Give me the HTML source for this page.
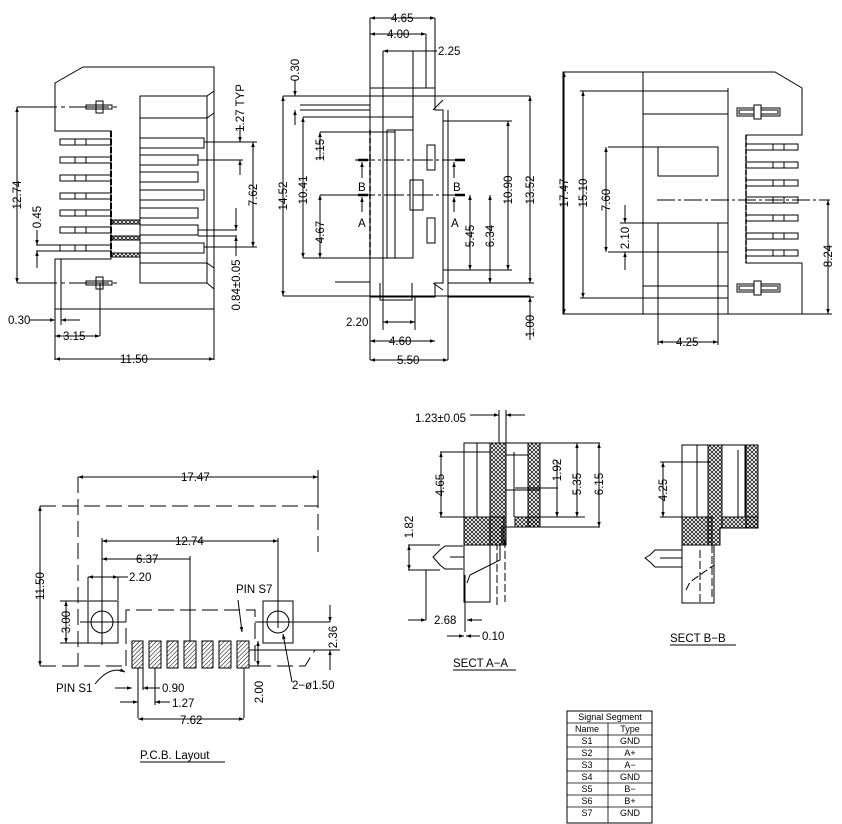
<!DOCTYPE html>
<html><head><meta charset="utf-8"><style>
html,body{margin:0;padding:0;background:#fff}
svg{display:block}
text{font-family:"Liberation Sans",sans-serif;font-size:11.5px;fill:#000}
</style></head><body>
<svg width="842" height="824" viewBox="0 0 842 824" xmlns="http://www.w3.org/2000/svg">
<defs>
<pattern id="xh" width="4" height="4" patternUnits="userSpaceOnUse"><path d="M0 0L4 4M4 0L0 4" stroke="#000" stroke-width="0.7"/></pattern>
<pattern id="dh" width="3" height="3" patternUnits="userSpaceOnUse" patternTransform="rotate(45)"><path d="M0 0V3" stroke="#000" stroke-width="1"/></pattern>
<marker id="a" viewBox="0 0 10 10" refX="10" refY="5" markerUnits="userSpaceOnUse" markerWidth="9" markerHeight="5" orient="auto-start-reverse"><path d="M0 1.5L10 5L0 8.5z" fill="#000"/></marker>
</defs>
<g fill="none" stroke="#000" stroke-width="1">
<!-- VIEW 1 -->
<path d="M55 83L83 67H214V309H55V259H111V131H55Z"/>
<path d="M55 259V360M214 309V360M61 259V325"/>
<rect x="140" y="96" width="67" height="187"/>
<path d="M207 96L214 91M207 283L214 289M140 118H207L214 113M140 263H207L214 268"/>
<g>
<rect x="60" y="139" width="51" height="6"/><rect x="60" y="157" width="51" height="6"/><rect x="60" y="175" width="51" height="6"/><rect x="60" y="193" width="51" height="6"/><rect x="60" y="210" width="51" height="6"/><rect x="60" y="227" width="51" height="6"/><rect x="60" y="245" width="51" height="6"/>
<path d="M75 139v6M86 139v6M75 157v6M86 157v6M75 175v6M86 175v6M75 193v6M86 193v6M75 210v6M86 210v6M75 227v6M86 227v6M75 245v6M86 245v6"/>
</g>
<path d="M111 131V259" stroke-width="2" stroke-dasharray="6 2"/>
<g>
<rect x="140" y="138" width="64" height="10"/><rect x="140" y="155" width="58" height="10"/><rect x="140" y="172" width="58" height="10"/><rect x="140" y="190" width="64" height="10"/><rect x="140" y="208" width="58" height="10"/><rect x="140" y="225" width="58" height="10"/><rect x="140" y="243" width="64" height="10"/>
</g>
<rect x="112" y="220" width="28" height="4" fill="url(#xh)"/><rect x="112" y="236" width="28" height="4" fill="url(#xh)"/><rect x="112" y="253" width="28" height="4" fill="url(#xh)"/>
<path d="M17 107H120M17 283H120" stroke-dasharray="40 4 4 4"/>
<path d="M86 105h26v4h-26zM86 281h26v4h-26z"/><rect x="96" y="101" width="7" height="12"/><rect x="96" y="277" width="7" height="12"/>
<path d="M17 107V283" marker-start="url(#a)" marker-end="url(#a)"/>
<path d="M204 142H257M198 160H243M204 247H257M198 230H237M198 236H237M36 245H62M36 251H62"/>
<path d="M253 142V247" marker-start="url(#a)" marker-end="url(#a)"/>
<path d="M240 125V142" marker-end="url(#a)"/><path d="M240 175V160" marker-end="url(#a)"/>
<path d="M236 208V230" marker-end="url(#a)"/><path d="M236 256V236" marker-end="url(#a)"/>
<path d="M37 230V245" marker-end="url(#a)"/><path d="M37 268V251" marker-end="url(#a)"/>
<path d="M30 320H55" marker-end="url(#a)"/><path d="M80 320H61" marker-end="url(#a)"/>
<path d="M100 283V336"/><path d="M55 336H100" marker-start="url(#a)" marker-end="url(#a)"/>
<path d="M55 359H214" marker-start="url(#a)" marker-end="url(#a)"/>
<!-- VIEW 2 -->
<path d="M370 18V360M435 18V88M426 34V88M383 51V117M413 51V117M448 110V360"/>
<path d="M370 18H435" marker-start="url(#a)" marker-end="url(#a)"/>
<path d="M370 34H426" marker-start="url(#a)" marker-end="url(#a)"/>
<path d="M383 51H413" marker-start="url(#a)"/><path d="M413 51H437"/>
<path d="M370 88H435V110H443V283H435V297H370Z"/>
<path d="M383 65V88M370 96H435M433 110L443 100M433 283L443 290"/>
<rect x="383" y="117" width="30" height="141"/>
<path d="M387 130V258M395 130V258M387 130H413" />
<rect x="410" y="180" width="13" height="30"/><rect x="427" y="145" width="8" height="25"/><rect x="427" y="218" width="8" height="25"/>
<path d="M370 130V258" stroke-width="1.5" stroke-dasharray="5 3"/>
<path d="M300 105H370M300 110H370M335 282H370M380 283V300H412V283"/>
<path d="M355 160H462M355 195H462" stroke-dasharray="20 3 3 3"/>
<path d="M358 160h10M455 160h10M358 195h10M455 195h10" stroke-width="2.5"/>
<path d="M362 178V162" marker-end="url(#a)"/><path d="M362 212V197" marker-end="url(#a)"/>
<path d="M454 178V162" marker-end="url(#a)"/><path d="M454 212V197" marker-end="url(#a)"/>
<path d="M283 96H530M283 296H530M303 117H383M303 258H383M320 132H395M320 195H370M443 121H512M443 270H512M448 283H534M448 297H534"/>
<path d="M283 96V296" marker-start="url(#a)" marker-end="url(#a)"/>
<path d="M303 117V258" marker-start="url(#a)" marker-end="url(#a)"/>
<path d="M320 195V258" marker-start="url(#a)" marker-end="url(#a)"/>
<path d="M320 132V160" marker-start="url(#a)"/>
<path d="M470 195V270" marker-start="url(#a)" marker-end="url(#a)"/>
<path d="M490 195V283" marker-start="url(#a)" marker-end="url(#a)"/>
<path d="M508 121V270" marker-start="url(#a)" marker-end="url(#a)"/>
<path d="M530 96V283" marker-start="url(#a)" marker-end="url(#a)"/>
<path d="M295 80V96" marker-end="url(#a)"/><path d="M295 125V110" marker-end="url(#a)"/>
<path d="M530 340V297" marker-end="url(#a)"/>
<path d="M383 258V330M415 297V330"/>
<path d="M383 322H415" marker-start="url(#a)" marker-end="url(#a)"/>
<path d="M370 341H435" marker-start="url(#a)" marker-end="url(#a)"/>
<path d="M370 360H448" marker-start="url(#a)" marker-end="url(#a)"/>
<!-- VIEW 3 -->
<path d="M563 72H775L802 88V135H746V263H802V314H563Z"/>
<path d="M643 72V314M728 88V314M580 91H728M643 114H728M643 298H728M643 286H728M580 298H643"/>
<rect x="658" y="147" width="60" height="29"/><path d="M608 147H658M608 252H728M658 223V314M718 223V314M658 223H728M718 147V176"/>
<path d="M746 135V263" stroke-width="1.5" stroke-dasharray="5 2"/>
<g><rect x="746" y="144" width="52" height="6"/><rect x="746" y="162" width="52" height="6"/><rect x="746" y="180" width="52" height="6"/><rect x="746" y="197" width="52" height="6"/><rect x="746" y="215" width="52" height="6"/><rect x="746" y="233" width="52" height="6"/><rect x="746" y="250" width="52" height="6"/>
<path d="M773 144v6M784 144v6M773 162v6M784 162v6M773 180v6M784 180v6M773 197v6M784 197v6M773 215v6M784 215v6M773 233v6M784 233v6M773 250v6M784 250v6"/></g>
<rect x="737" y="108" width="43" height="8"/><rect x="739" y="110" width="39" height="4"/><rect x="754" y="105" width="7" height="14" fill="#fff"/>
<rect x="737" y="284" width="43" height="8"/><rect x="739" y="286" width="39" height="4"/><rect x="754" y="281" width="7" height="14" fill="#fff"/>
<path d="M657 200H830" stroke-dasharray="18 3 3 3"/><path d="M802 314H832"/>
<path d="M564 72V314" marker-start="url(#a)" marker-end="url(#a)"/>
<path d="M583 91V298" marker-start="url(#a)" marker-end="url(#a)"/>
<path d="M606 147V252" marker-start="url(#a)" marker-end="url(#a)"/>
<path d="M625 205V223" marker-end="url(#a)"/><path d="M625 270V252" marker-end="url(#a)"/><path d="M620 223H658"/>
<path d="M828 200V314" marker-start="url(#a)" marker-end="url(#a)"/>
<path d="M658 314V345M718 314V345"/><path d="M658 342H718" marker-start="url(#a)" marker-end="url(#a)"/>
<!-- PCB -->
<path d="M78 477H318" marker-start="url(#a)" marker-end="url(#a)"/>
<path d="M40 506H318V555M78 477V666M40 666H126M255 666H305L315 650" stroke-dasharray="16 6"/>
<path d="M318 470V506"/>
<path d="M40 506V666" marker-start="url(#a)" marker-end="url(#a)"/>
<path d="M126 666V610H255V666" stroke-dasharray="16 6"/>
<path d="M102 538V645M278 538V628M190 556V641M88 577V600M118 577V600"/>
<path d="M102 541H278" marker-start="url(#a)" marker-end="url(#a)"/>
<path d="M102 559H190" marker-start="url(#a)"/>
<path d="M88 577H118" marker-start="url(#a)" marker-end="url(#a)"/><path d="M118 577H128"/>
<rect x="88" y="601" width="30" height="42"/><rect x="263" y="601" width="30" height="42"/>
<circle cx="102" cy="622" r="11"/><circle cx="278" cy="622" r="11"/>
<path d="M80 622H126M255 622H330"/>
<path d="M60 601H88M60 643H88"/><path d="M66 601V643" marker-start="url(#a)" marker-end="url(#a)"/>
<g fill="url(#dh)"><rect x="132" y="641" width="11" height="27"/><rect x="149" y="641" width="12" height="27"/><rect x="167" y="641" width="11" height="27"/><rect x="184" y="641" width="12" height="27"/><rect x="202" y="641" width="11" height="27"/><rect x="219" y="641" width="12" height="27"/><rect x="237" y="641" width="12" height="27"/></g>
<path d="M138 668V718M143 668V690M155 668V705M244 668V718M249 650H340M249 666H260"/>
<path d="M115 688H132" marker-end="url(#a)"/><path d="M160 688H143" marker-end="url(#a)"/>
<path d="M120 702H138" marker-end="url(#a)"/><path d="M170 702H155" marker-end="url(#a)"/>
<path d="M138 719H244" marker-start="url(#a)" marker-end="url(#a)"/>
<path d="M258 641V666" marker-start="url(#a)" marker-end="url(#a)"/>
<path d="M330 605V622" marker-end="url(#a)"/><path d="M330 670V650" marker-end="url(#a)"/>
<path d="M95 684Q110 665 125 672" marker-end="url(#a)"/>
<path d="M238 600L242 632" marker-end="url(#a)"/>
<path d="M292 682L283 634" marker-end="url(#a)"/>
<path d="M140 762H225"/>
<!-- SECT A-A -->
<path d="M464 443H540V527H502V545H490V602H464Z"/>
<path d="M464 452H490M477 443V517M514 452V517"/>
<rect x="490" y="443" width="16" height="102" fill="url(#xh)"/>
<rect x="528" y="443" width="12" height="84" fill="url(#xh)"/>
<rect x="515" y="517" width="25" height="10" fill="url(#xh)"/>
<rect x="464" y="517" width="40" height="28" fill="url(#xh)"/>
<path d="M506 490H540M506 455H528"/>
<path d="M440 550L445 546H463M440 565L445 569H463M440 550L433 557L440 565M450 557h14"/>
<path d="M497 605V545M505 540V602" stroke-dasharray="8 3"/>
<path d="M467 583L470 575L500 560V545M465 632V575"/>
<path d="M499 410V443M506 410V443"/><path d="M470 415H499" marker-end="url(#a)"/><path d="M525 415H506" marker-end="url(#a)"/>
<path d="M440 452H490M440 517H464"/><path d="M441 452V517" marker-start="url(#a)" marker-end="url(#a)"/>
<path d="M540 443H600M540 527H600M515 517H585M515 488H558"/>
<path d="M557 488V517" marker-end="url(#a)"/><path d="M557 460V488"/>
<path d="M577 443V517" marker-start="url(#a)" marker-end="url(#a)"/>
<path d="M599 443V527" marker-start="url(#a)" marker-end="url(#a)"/>
<path d="M408 545H440M408 570H440"/><path d="M409 545V570" marker-start="url(#a)" marker-end="url(#a)"/>
<path d="M426 570V620"/><path d="M408 620H426" marker-end="url(#a)"/><path d="M482 620H467" marker-end="url(#a)"/>
<path d="M447 636H464" marker-end="url(#a)"/><path d="M480 636H466" marker-end="url(#a)"/>
<path d="M453 670H516"/>
<!-- SECT B-B -->
<path d="M682 445H758V528H720V545H714V603H682Z"/>
<path d="M697 445V517M738 450V517M745 445V517"/>
<path d="M708 445H722V528H720V545H708Z" fill="url(#xh)"/>
<rect x="746" y="445" width="12" height="83" fill="url(#xh)"/>
<rect x="722" y="517" width="36" height="11" fill="url(#xh)"/>
<rect x="682" y="517" width="30" height="28" fill="url(#xh)"/>
<path d="M660 462H710M660 517H682"/><path d="M663 462V517" marker-start="url(#a)" marker-end="url(#a)"/>
<path d="M650 555L655 550H682M650 562L655 567H682M650 555L645 558L650 562M660 558h22"/>
<path d="M686 590L690 582L714 565M700 550V603M712 545V600" stroke-dasharray="8 3"/>
<path d="M670 645H736"/>
<!-- TABLE -->
<rect x="567" y="711" width="85" height="112"/>
<path d="M567 723H652M567 735H652M567 747H652M567 759H652M567 771H652M567 783H652M567 795H652M567 807H652M608 723V823" stroke-width="0.8"/>
</g>
<!-- TEXT -->
<g>
<text transform="translate(21 195) rotate(-90)" text-anchor="middle">12.74</text>
<text transform="translate(41 217) rotate(-90)" text-anchor="middle">0.45</text>
<text transform="translate(244 108) rotate(-90)" text-anchor="middle">1.27 TYP</text>
<text transform="translate(257 195) rotate(-90)" text-anchor="middle">7.62</text>
<text transform="translate(240 285) rotate(-90)" text-anchor="middle">0.84±0.05</text>
<text x="8" y="324">0.30</text>
<text x="63" y="340">3.15</text>
<text x="120" y="363">11.50</text>
<text x="391" y="22">4.65</text>
<text x="387" y="38">4.00</text>
<text x="438" y="55">2.25</text>
<text transform="translate(299 70) rotate(-90)" text-anchor="middle">0.30</text>
<text transform="translate(287 196) rotate(-90)" text-anchor="middle">14.52</text>
<text transform="translate(307 190) rotate(-90)" text-anchor="middle">10.41</text>
<text transform="translate(324 232) rotate(-90)" text-anchor="middle">4.67</text>
<text transform="translate(324 150) rotate(-90)" text-anchor="middle">1.15</text>
<text transform="translate(474 236) rotate(-90)" text-anchor="middle">5.45</text>
<text transform="translate(494 236) rotate(-90)" text-anchor="middle">6.34</text>
<text transform="translate(512 190) rotate(-90)" text-anchor="middle">10.90</text>
<text transform="translate(534 190) rotate(-90)" text-anchor="middle">13.52</text>
<text transform="translate(534 326) rotate(-90)" text-anchor="middle">1.00</text>
<text x="358" y="191">B</text><text x="453" y="191">B</text>
<text x="358" y="227">A</text><text x="451" y="227">A</text>
<text x="346" y="326">2.20</text>
<text x="389" y="345">4.60</text>
<text x="397" y="364">5.50</text>
<text transform="translate(568 193) rotate(-90)" text-anchor="middle">17.47</text>
<text transform="translate(587 193) rotate(-90)" text-anchor="middle">15.10</text>
<text transform="translate(610 200) rotate(-90)" text-anchor="middle">7.60</text>
<text transform="translate(629 238) rotate(-90)" text-anchor="middle">2.10</text>
<text transform="translate(832 256) rotate(-90)" text-anchor="middle">8.24</text>
<text x="676" y="346">4.25</text>
<text x="181" y="481">17.47</text>
<text transform="translate(44 586) rotate(-90)" text-anchor="middle">11.50</text>
<text x="175" y="545">12.74</text>
<text x="136" y="563">6.37</text>
<text x="129" y="581">2.20</text>
<text transform="translate(70 622) rotate(-90)" text-anchor="middle">3.00</text>
<text x="236" y="593">PIN  S7</text>
<text x="56" y="692">PIN  S1</text>
<text x="162" y="692">0.90</text>
<text x="172" y="707">1.27</text>
<text x="180" y="724">7.62</text>
<text transform="translate(263 692) rotate(-90)" text-anchor="middle">2.00</text>
<text transform="translate(337 637) rotate(-90)" text-anchor="middle">2.36</text>
<text x="292" y="689">2−ø1.50</text>
<text x="140" y="759" font-size="13">P.C.B.  Layout</text>
<text x="415" y="422">1.23±0.05</text>
<text transform="translate(444 485) rotate(-90)" text-anchor="middle">4.65</text>
<text transform="translate(561 470) rotate(-90)" text-anchor="middle">1.92</text>
<text transform="translate(581 484) rotate(-90)" text-anchor="middle">5.35</text>
<text transform="translate(603 484) rotate(-90)" text-anchor="middle">6.15</text>
<text transform="translate(413 527) rotate(-90)" text-anchor="middle">1.82</text>
<text x="434" y="624">2.68</text>
<text x="482" y="640">0.10</text>
<text x="453" y="667" font-size="13">SECT  A−A</text>
<text transform="translate(667 490) rotate(-90)" text-anchor="middle">4.25</text>
<text x="670" y="642" font-size="13">SECT  B−B</text>
</g>
<g>
<text x="610" y="720" text-anchor="middle" style="font-size:9px">Signal  Segment</text>
<text x="587" y="732" text-anchor="middle" style="font-size:9px">Name</text><text x="630" y="732" text-anchor="middle" style="font-size:9px">Type</text>
<text x="587" y="744" text-anchor="middle" style="font-size:9px">S1</text><text x="630" y="744" text-anchor="middle" style="font-size:9px">GND</text>
<text x="587" y="756" text-anchor="middle" style="font-size:9px">S2</text><text x="630" y="756" text-anchor="middle" style="font-size:9px">A+</text>
<text x="587" y="768" text-anchor="middle" style="font-size:9px">S3</text><text x="630" y="768" text-anchor="middle" style="font-size:9px">A−</text>
<text x="587" y="780" text-anchor="middle" style="font-size:9px">S4</text><text x="630" y="780" text-anchor="middle" style="font-size:9px">GND</text>
<text x="587" y="792" text-anchor="middle" style="font-size:9px">S5</text><text x="630" y="792" text-anchor="middle" style="font-size:9px">B−</text>
<text x="587" y="804" text-anchor="middle" style="font-size:9px">S6</text><text x="630" y="804" text-anchor="middle" style="font-size:9px">B+</text>
<text x="587" y="816" text-anchor="middle" style="font-size:9px">S7</text><text x="630" y="816" text-anchor="middle" style="font-size:9px">GND</text>
</g>
</svg>
</body></html>
